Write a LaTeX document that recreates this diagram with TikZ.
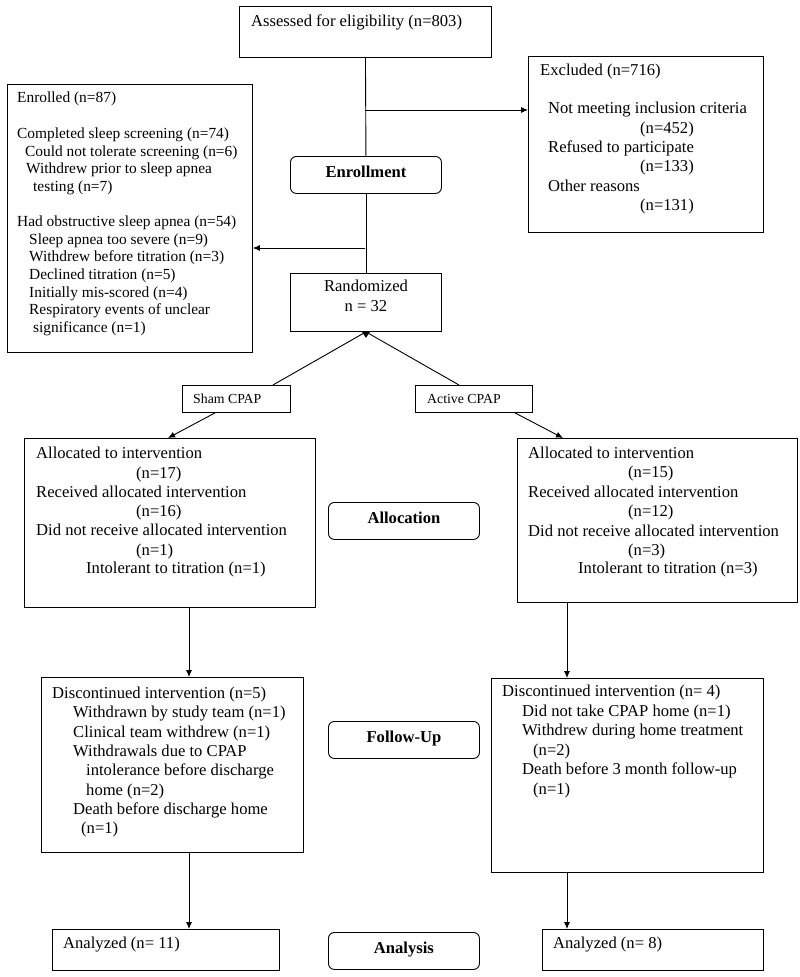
\documentclass[tikz,border=0pt]{standalone}
\usepackage{fontspec}
\setmainfont{Liberation Serif}
\usetikzlibrary{arrows.meta}
\begin{document}
\begin{tikzpicture}[x=1pt,y=-1pt,
  box/.style={draw, line width=0.9pt, inner sep=0pt, anchor=north west},
  rbox/.style={box, rounded corners=6pt, font=\fontsize{16.6}{19}\selectfont\bfseries, text height=.72em, text depth=.24em},
  arr/.style={line width=0.9pt, -{Latex[length=7pt,width=6pt]}},
  ln/.style={line width=0.9pt},
  txt/.style={anchor=west, inner sep=0pt, yshift=-1.2pt, text height=.72em, text depth=.24em, font=\fontsize{16.6}{19}\selectfont},
  stxt/.style={txt, font=\fontsize{15.4}{18}\selectfont},
  ltxt/.style={txt, font=\fontsize{13.8}{16}\selectfont},
  ctxt/.style={txt, anchor=center}]
\useasboundingbox (0,0) rectangle (800,977);

% boxes
\node[box, minimum width=252pt, minimum height=51pt] (assess) at (239,6) {};
\node[box, minimum width=235pt, minimum height=176pt] (excl) at (528,56) {};
\node[box, minimum width=245pt, minimum height=268pt] (enrl) at (7,84) {};
\node[rbox, minimum width=151pt, minimum height=37pt] (enrbox) at (290,156) {Enrollment};
\node[box, minimum width=151pt, minimum height=58pt] (rand) at (290,273) {};
\node[box, minimum width=108pt, minimum height=27pt] (sham) at (182,385) {};
\node[box, minimum width=117pt, minimum height=27pt] (active) at (415,385) {};
\node[box, minimum width=291pt, minimum height=169pt] (allocL) at (24,438) {};
\node[box, minimum width=280pt, minimum height=164pt] (allocR) at (517,438) {};
\node[rbox, minimum width=151pt, minimum height=37pt] (alloclab) at (328,502) {Allocation};
\node[box, minimum width=262pt, minimum height=175pt] (fuL) at (41,677) {};
\node[box, minimum width=272pt, minimum height=194pt] (fuR) at (491,678) {};
\node[rbox, minimum width=151pt, minimum height=37pt] (fulab) at (328,721) {Follow-Up};
\node[box, minimum width=227pt, minimum height=41pt] (anL) at (52,929) {};
\node[box, minimum width=221pt, minimum height=41pt] (anR) at (542,929) {};
\node[rbox, minimum width=151pt, minimum height=37pt] (anlab) at (328,932) {Analysis};

% texts
\node[txt] (tassess) at (251,22.7) {Assessed for eligibility (n=803)};
\foreach \x/\y/\t [count=\i] in {540/71.7/{Excluded (n=716)}, 548/110/{Not meeting inclusion criteria}, 640/130/{(n=452)}, 548/149/{Refused to participate}, 640/168.3/{(n=133)}, 548/187.7/{Other reasons}, 640/207.3/{(n=131)}}
  \node[txt] (tex\i) at (\x,\y) {\t};
\foreach \x/\y/\t [count=\i] in {17/99.3/{Enrolled (n=87)}, 17/135/{Completed sleep screening (n=74)}, 25/152.7/{Could not tolerate screening (n=6)}, 26/170/{Withdrew prior to sleep apnea}, 33/187.7/{testing (n=7)}, 17/223.3/{Had obstructive sleep apnea (n=54)}, 29/240.7/{Sleep apnea too severe (n=9)}, 29/258.3/{Withdrew before titration (n=3)}, 29/276/{Declined titration (n=5)}, 29/293.7/{Initially mis-scored (n=4)}, 29/311.3/{Respiratory events of unclear}, 33/329.3/{significance (n=1)}}
  \node[stxt] (ten\i) at (\x,\y) {\t};
\node[ctxt] (trand1) at (366,288.3) {Randomized};
\node[ctxt] (trand2) at (366,308.3) {n = 32};
\node[ltxt] (tsham) at (193,400) {Sham CPAP};
\node[ltxt] (tactive) at (427,400) {Active CPAP};
\foreach \x/\y/\t [count=\i] in {36/455/{Allocated to intervention}, 136/475/{(n=17)}, 36/494/{Received allocated intervention}, 136/513.3/{(n=16)}, 36/532.3/{Did not receive allocated intervention}, 136/551.7/{(n=1)}, 86/570/{Intolerant to titration (n=1)}}
  \node[txt] (tal\i) at (\x,\y) {\t};
\foreach \x/\y/\t [count=\i] in {528/455/{Allocated to intervention}, 628/474.3/{(n=15)}, 528/494/{Received allocated intervention}, 628/513.3/{(n=12)}, 528/532.7/{Did not receive allocated intervention}, 628/551.7/{(n=3)}, 578/570/{Intolerant to titration (n=3)}}
  \node[txt] (tar\i) at (\x,\y) {\t};
\foreach \x/\y/\t [count=\i] in {52/695/{Discontinued intervention (n=5)}, 73/714.3/{Withdrawn by study team (n=1)}, 73/734/{Clinical team withdrew (n=1)}, 73/752.7/{Withdrawals due to CPAP}, 86/772.3/{intolerance before discharge}, 86/791.7/{home (n=2)}, 73/810.7/{Death before discharge home}, 81/830/{(n=1)}}
  \node[txt] (tfl\i) at (\x,\y) {\t};
\foreach \x/\y/\t [count=\i] in {502/693.3/{Discontinued intervention (n= 4)}, 522/712.7/{Did not take CPAP home (n=1)}, 522/732.3/{Withdrew during home treatment}, 533/752.3/{(n=2)}, 522/771/{Death before 3 month follow-up}, 533/791/{(n=1)}}
  \node[txt] (tfr\i) at (\x,\y) {\t};
\node[txt] (tanl) at (63,945) {Analyzed (n= 11)};
\node[txt] (tanr) at (553,945) {Analyzed (n= 8)};

% connectors
\coordinate (j1) at (365,110);
\coordinate (j2) at (365,248);
\draw[ln] (assess.south) -- (enrbox.north);
\draw[ln] (enrbox.south) -- (rand.north);
\draw[arr] (j1) -- (excl.west |- j1);
\draw[arr] (j2) -- (enrl.east |- j2);
\draw[ln] (rand.south) -- ([xshift=-18pt]sham.north east);
\draw[ln] (rand.south) -- ([xshift=44pt]active.north west);
\fill ([xshift=-4pt]rand.south) -- ([xshift=4pt]rand.south) -- ([yshift=-6pt]rand.south) -- cycle;
\draw[arr] ([xshift=33pt]sham.south west) -- ([xshift=144pt]allocL.north west);
\draw[arr] ([xshift=100pt]active.south west) -- ([xshift=46pt]allocR.north west);
\draw[arr] ([xshift=165pt]allocL.south west) -- ([xshift=148pt]fuL.north west);
\draw[arr] ([xshift=50pt]allocR.south west) -- ([xshift=76pt]fuR.north west);
\draw[arr] ([xshift=148pt]fuL.south west) -- ([xshift=137pt]anL.north west);
\draw[arr] ([xshift=76pt]fuR.south west) -- ([xshift=25pt]anR.north west);
\end{tikzpicture}
\end{document}
